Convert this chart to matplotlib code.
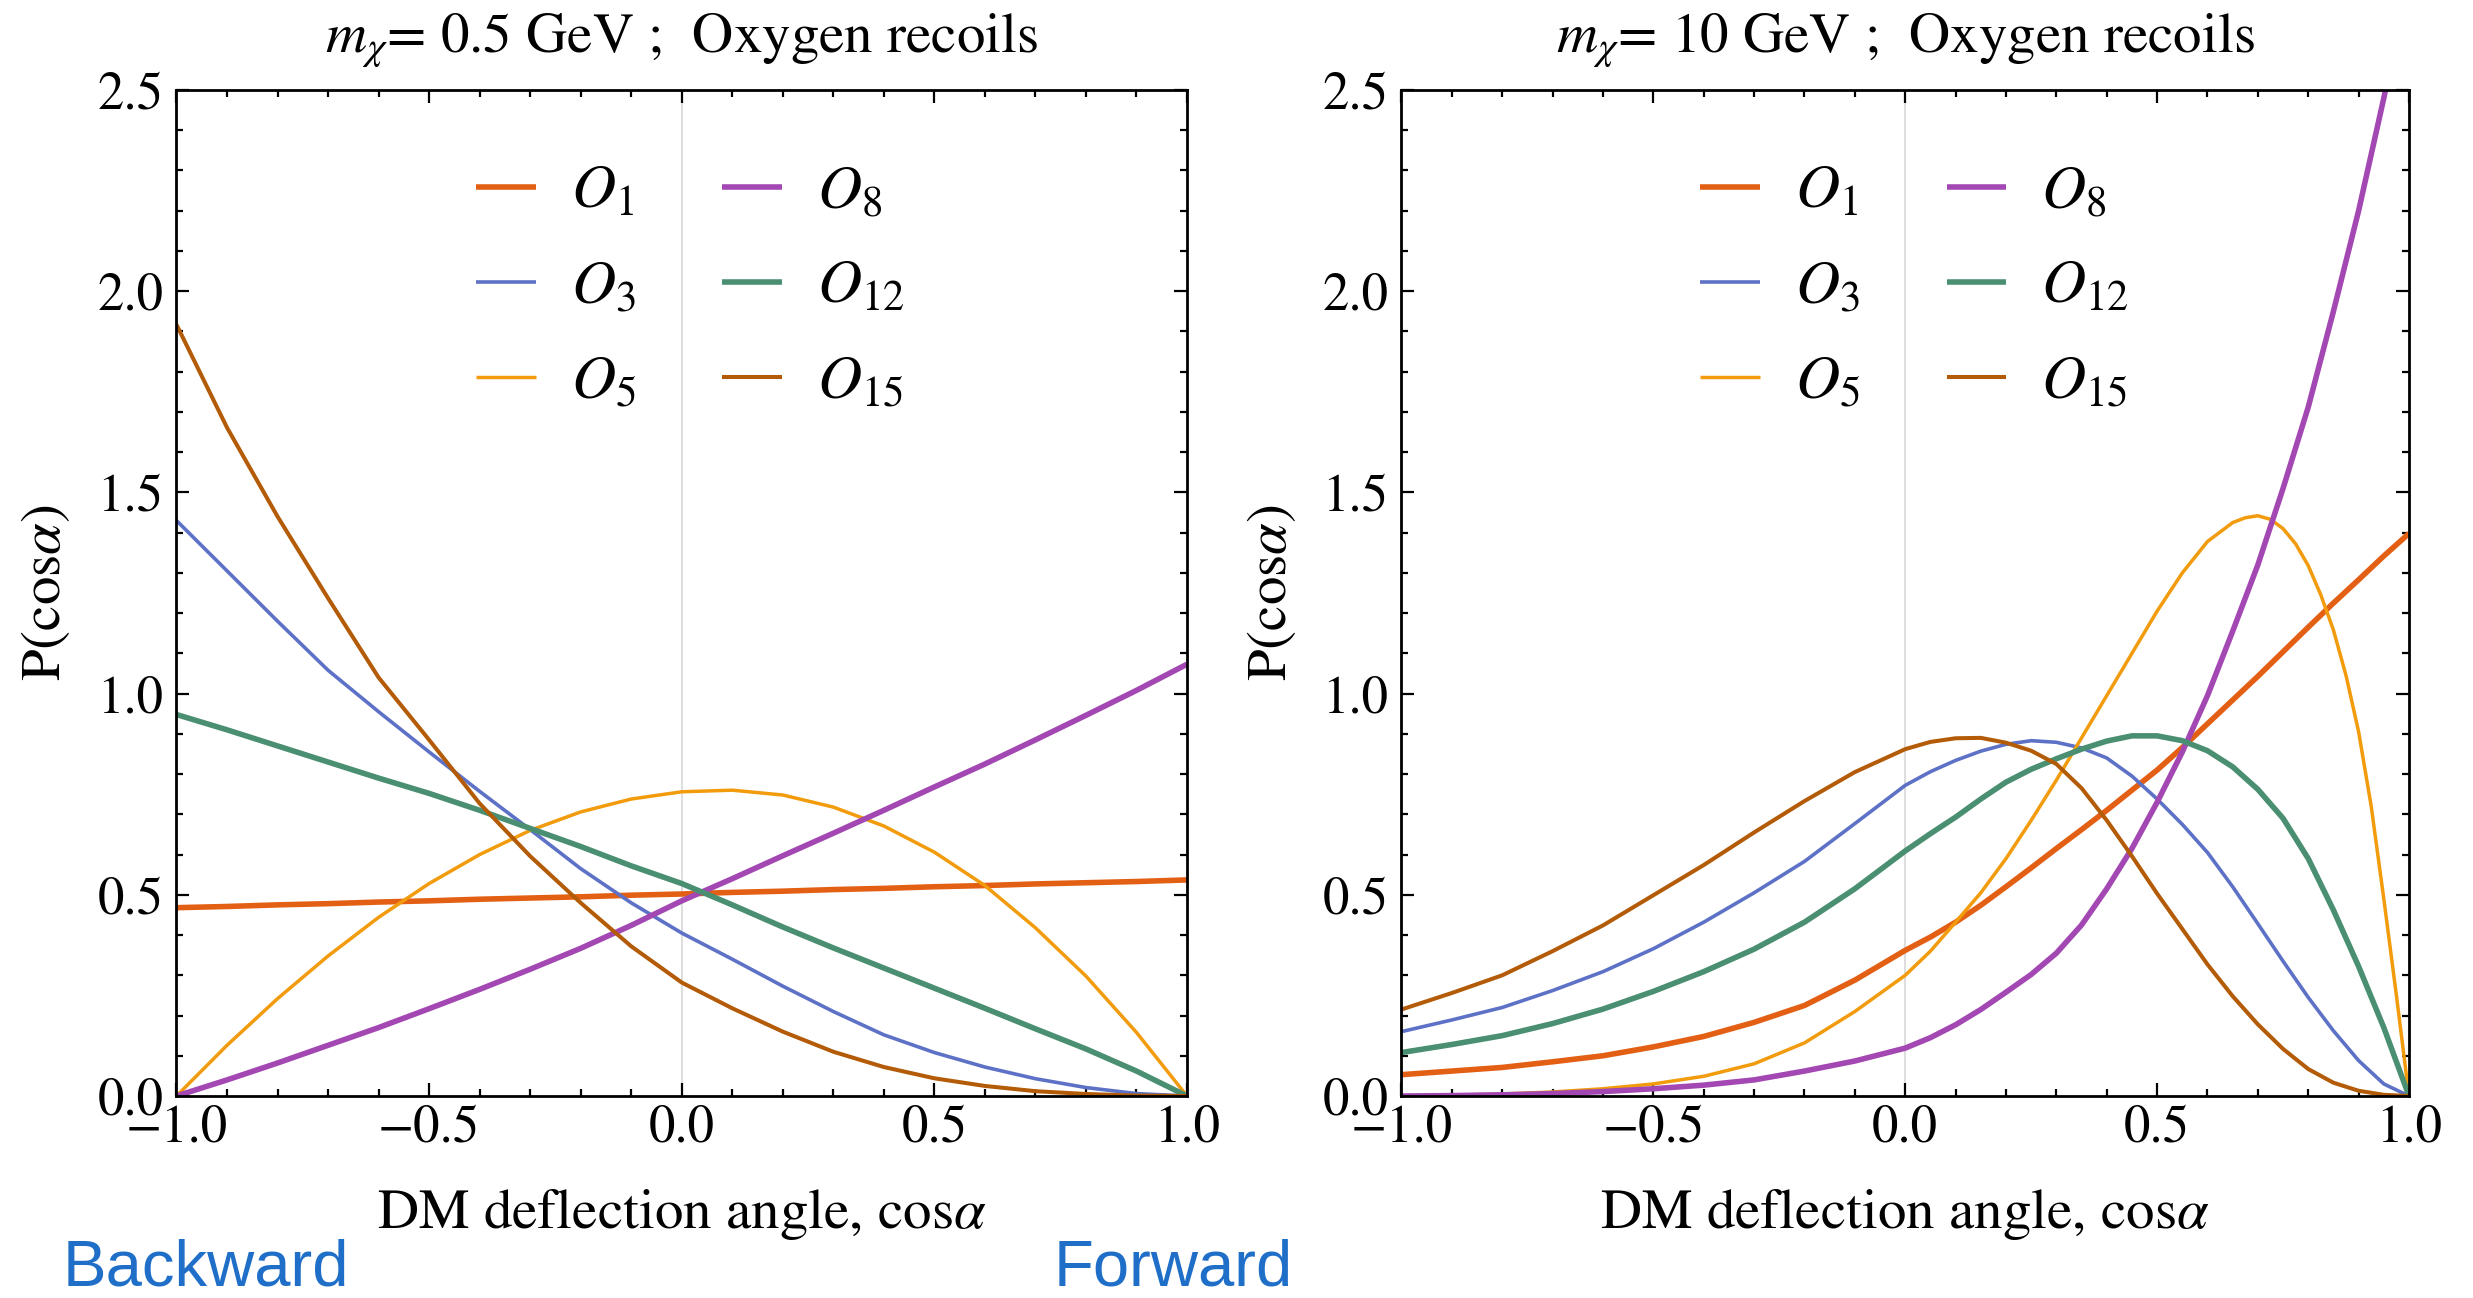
import matplotlib
matplotlib.use('Agg')
import matplotlib.pyplot as plt
from matplotlib.ticker import MultipleLocator, FuncFormatter

plt.rcParams['font.family'] = ['STIXGeneral', 'Liberation Serif', 'DejaVu Serif']
plt.rcParams['mathtext.fontset'] = 'stix'

# ---------------- data ----------------
labels = [r'$O_{1}$', r'$O_{3}$', r'$O_{5}$', r'$O_{8}$', r'$O_{12}$', r'$O_{15}$']

# Left panel: m_chi = 0.5 GeV
x_left = [-1.0, -0.9, -0.8, -0.7, -0.6, -0.5, -0.4, -0.3, -0.2, -0.1, 0.0,
          0.1, 0.2, 0.3, 0.4, 0.5, 0.6, 0.7, 0.8, 0.9, 1.0]
O1_left = [0.468, 0.471, 0.475, 0.478, 0.482, 0.485, 0.489, 0.492, 0.495, 0.499, 0.502,
           0.506, 0.509, 0.513, 0.516, 0.520, 0.523, 0.527, 0.530, 0.533, 0.537]
O3_left = [1.430, 1.305, 1.180, 1.058, 0.955, 0.855, 0.757, 0.662, 0.565, 0.480, 0.405,
           0.340, 0.273, 0.210, 0.152, 0.108, 0.072, 0.043, 0.021, 0.006, 0.0]
O5_left = [0.0, 0.126, 0.242, 0.348, 0.444, 0.528, 0.600, 0.660, 0.706, 0.738, 0.756,
           0.760, 0.748, 0.718, 0.671, 0.606, 0.523, 0.418, 0.298, 0.158, 0.0]
O8_left = [0.0, 0.040, 0.082, 0.126, 0.170, 0.217, 0.265, 0.315, 0.367, 0.424, 0.485,
           0.540, 0.597, 0.653, 0.710, 0.768, 0.825, 0.885, 0.946, 1.008, 1.073]
O12_left = [0.948, 0.910, 0.870, 0.830, 0.790, 0.752, 0.710, 0.665, 0.620, 0.572, 0.528,
            0.475, 0.420, 0.368, 0.318, 0.268, 0.218, 0.167, 0.117, 0.062, 0.0]
O15_left = [1.917, 1.661, 1.440, 1.237, 1.040, 0.885, 0.727, 0.596, 0.480, 0.372, 0.282,
            0.218, 0.160, 0.110, 0.072, 0.044, 0.025, 0.012, 0.005, 0.001, 0.0]

# Right panel: m_chi = 10 GeV
x_right = [-1.0, -0.9, -0.8, -0.7, -0.6, -0.5, -0.4, -0.3, -0.2, -0.1,
           0.0, 0.05, 0.1, 0.15, 0.2, 0.25, 0.3, 0.35, 0.4, 0.45, 0.5,
           0.55, 0.6, 0.65, 0.7, 0.75, 0.8, 0.85, 0.9, 0.95, 1.0]
O1_right = [0.053, 0.062, 0.071, 0.085, 0.100, 0.122, 0.148, 0.183, 0.225, 0.288,
            0.362, 0.395, 0.432, 0.474, 0.520, 0.567, 0.615, 0.662, 0.710, 0.760, 0.810,
            0.866, 0.925, 0.984, 1.043, 1.104, 1.165, 1.225, 1.283, 1.342, 1.398]
O3_right = [0.160, 0.189, 0.220, 0.262, 0.309, 0.366, 0.432, 0.505, 0.583, 0.677,
            0.772, 0.806, 0.834, 0.857, 0.874, 0.883, 0.879, 0.865, 0.840, 0.795, 0.738,
            0.675, 0.605, 0.520, 0.428, 0.335, 0.245, 0.162, 0.088, 0.030, 0.0]
x_right_O5 = [-1.0, -0.9, -0.8, -0.7, -0.6, -0.5, -0.4, -0.3, -0.2, -0.1,
              0.0, 0.05, 0.1, 0.15, 0.2, 0.25, 0.3, 0.35, 0.4, 0.45, 0.5,
              0.55, 0.6, 0.65, 0.675, 0.7, 0.725, 0.75, 0.775, 0.8, 0.825, 0.85,
              0.875, 0.9, 0.925, 0.95, 0.975, 1.0]
O5_right = [0.0, 0.002, 0.005, 0.010, 0.018, 0.030, 0.049, 0.080, 0.132, 0.210,
            0.300, 0.360, 0.432, 0.505, 0.590, 0.685, 0.785, 0.890, 0.995, 1.100, 1.205,
            1.300, 1.378, 1.425, 1.437, 1.442, 1.433, 1.410, 1.372, 1.318, 1.245, 1.158,
            1.045, 0.905, 0.720, 0.490, 0.250, 0.0]
O8_right = [0.0, 0.001, 0.003, 0.006, 0.011, 0.018, 0.027, 0.040, 0.062, 0.087,
            0.119, 0.145, 0.177, 0.215, 0.258, 0.302, 0.355, 0.425, 0.515, 0.615, 0.730,
            0.855, 0.995, 1.155, 1.320, 1.510, 1.712, 1.950, 2.200, 2.480, 2.780]
O12_right = [0.108, 0.128, 0.150, 0.180, 0.216, 0.260, 0.309, 0.365, 0.432, 0.515,
             0.609, 0.652, 0.693, 0.738, 0.780, 0.812, 0.838, 0.862, 0.882, 0.895, 0.895,
             0.883, 0.858, 0.818, 0.762, 0.690, 0.590, 0.462, 0.322, 0.170, 0.0]
O15_right = [0.215, 0.256, 0.300, 0.360, 0.424, 0.499, 0.574, 0.655, 0.733, 0.805,
             0.862, 0.880, 0.889, 0.890, 0.878, 0.858, 0.825, 0.765, 0.685, 0.596, 0.503,
             0.415, 0.327, 0.248, 0.178, 0.117, 0.067, 0.033, 0.013, 0.003, 0.0]

colors = ['#E35F14', '#5D72C6', '#F29B0C', '#A347B3', '#4A8F71', '#B35B07']
widths = [4.0, 2.6, 2.5, 4.0, 4.0, 2.9]

titles = [r'$m_{\chi}$= 0.5 GeV ;  Oxygen recoils', r'$m_{\chi}$= 10 GeV ;  Oxygen recoils']

# ---------------- figure ----------------
fig = plt.figure(figsize=(24.73, 12.98), dpi=100)
axL = fig.add_axes([0.07137, 0.15562, 0.40861, 0.77504])
axR = fig.add_axes([0.56672, 0.15562, 0.40740, 0.77504])

fmt = FuncFormatter(lambda v, p: ('{:.1f}'.format(v)).replace('-', '\u2212'))

panels = [
    (axL, [x_left] * 6,
     [O1_left, O3_left, O5_left, O8_left, O12_left, O15_left], titles[0]),
    (axR, [x_right, x_right, x_right_O5, x_right, x_right, x_right],
     [O1_right, O3_right, O5_right, O8_right, O12_right, O15_right], titles[1]),
]

for ax, xlists, series, title in panels:
    ax.axvline(0.0, color='#d4d4d4', lw=1.1, zorder=0)
    handles = []
    for xs, ys, c, w, lab in zip(xlists, series, colors, widths, labels):
        h, = ax.plot(xs, ys, color=c, lw=w, label=lab, solid_capstyle='butt',
                     solid_joinstyle='round')
        handles.append(h)
    ax.set_xlim(-1, 1)
    ax.set_ylim(0, 2.5)
    ax.xaxis.set_major_locator(MultipleLocator(0.5))
    ax.xaxis.set_minor_locator(MultipleLocator(0.1))
    ax.yaxis.set_major_locator(MultipleLocator(0.5))
    ax.yaxis.set_minor_locator(MultipleLocator(0.1))
    ax.xaxis.set_major_formatter(fmt)
    ax.yaxis.set_major_formatter(fmt)
    ax.tick_params(which='both', direction='in', top=True, right=True,
                   width=1.6, color='black', labelsize=38)
    ax.tick_params(which='major', length=9.5)
    ax.tick_params(which='minor', length=5)
    ax.tick_params(axis='x', which='major', pad=6)
    ax.tick_params(axis='y', which='major', pad=9.5)
    for t in ax.get_xticklabels() + ax.get_yticklabels():
        t.set_family('STIXGeneral')
    for s in ax.spines.values():
        s.set_linewidth(2.0)
    ax.set_title(title, fontsize=41, pad=27)
    ax.set_xlabel(r'DM deflection angle, cos$\alpha$', fontsize=41)
    ax.xaxis.set_label_coords(0.5, -0.09)
    ax.set_ylabel(r'P(cos$\alpha$)', fontsize=41)
    ax.yaxis.set_label_coords(-0.103, 0.5)
    ax.legend(handles=handles, ncol=2, loc='upper left',
              bbox_to_anchor=(0.2964, 0.925), frameon=False, fontsize=44,
              handlelength=0.98, handletextpad=0.57, columnspacing=1.42,
              labelspacing=0.64, borderpad=0.0, borderaxespad=0.0)

fig.text(63 / 2473, 0.0, 'Backward', color='#1F6FC8', fontsize=47,
         family='Liberation Sans', va='bottom', ha='left')
fig.text(1054 / 2473, 0.0, 'Forward', color='#1F6FC8', fontsize=47,
         family='Liberation Sans', va='bottom', ha='left')

fig.savefig('out.png', dpi=100)
